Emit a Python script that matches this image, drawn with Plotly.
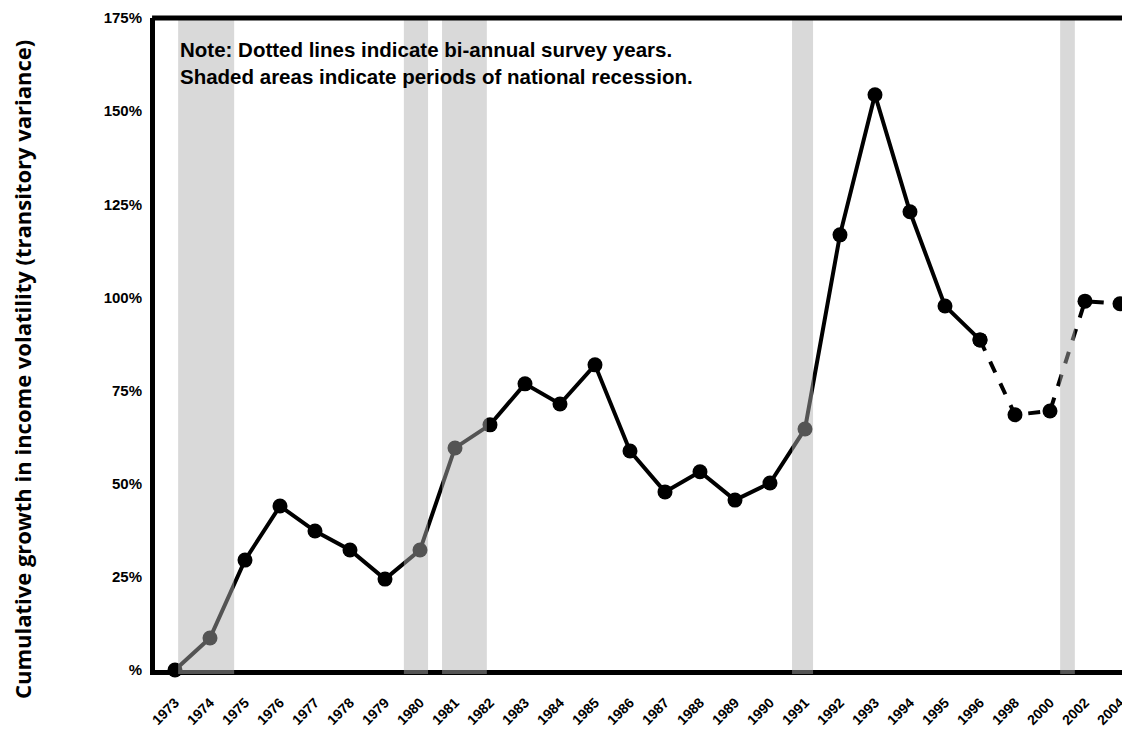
import plotly.graph_objects as go

years = ["1973", "1974", "1975", "1976", "1977", "1978", "1979", "1980", "1981", "1982",
         "1983", "1984", "1985", "1986", "1987", "1988", "1989", "1990", "1991", "1992",
         "1993", "1994", "1995", "1996", "1998", "2000", "2002", "2004"]
growth = [0.0, 8.6, 29.5, 44.0, 37.3, 32.2, 24.4, 32.2, 59.6, 65.8,
          76.8, 71.4, 81.9, 58.8, 47.8, 53.2, 45.6, 50.2, 64.7, 116.8,
          154.4, 123.0, 97.7, 88.6, 68.5, 69.5, 99.0, 98.3]
annual_end = "1996"  # dotted from here on (bi-annual survey years)

# recession periods in category-index units
recessions = [(0.09, 1.69), (6.54, 7.23), (7.63, 8.91), (17.63, 18.23), (25.29, 25.71)]

y_ticks = [0, 25, 50, 75, 100, 125, 150, 175]
y_labels = ["%", "25%", "50%", "75%", "100%", "125%", "150%", "175%"]

note = "<b>Note: Dotted lines indicate bi-annual survey years.<br>Shaded areas indicate periods of national recession.</b>"
y_title = "Cumulative growth in income volatility (transitory variance)"

k = years.index(annual_end)

fig = go.Figure()
fig.add_trace(go.Scatter(
    x=years[:k + 1], y=growth[:k + 1], mode="lines+markers",
    line=dict(color="black", width=4),
    marker=dict(color="black", size=15),
    cliponaxis=False, showlegend=False))
fig.add_trace(go.Scatter(
    x=years[k:], y=growth[k:], mode="lines+markers",
    line=dict(color="black", width=4, dash="dash"),
    marker=dict(color="black", size=15),
    cliponaxis=False, showlegend=False))

for x0, x1 in recessions:
    fig.add_shape(type="rect", xref="x", yref="paper", x0=x0, x1=x1, y0=-0.006, y1=0.997,
                  fillcolor="rgba(176,176,176,0.48)", line=dict(width=0), layer="above")

fig.add_annotation(text=note, xref="paper", yref="paper", x=0.024, y=0.972,
                   xanchor="left", yanchor="top", align="left", showarrow=False,
                   font=dict(family="Liberation Sans, Arial", size=20.5, color="black"))

fig.add_annotation(text="<b>" + y_title + "</b>", xref="paper", yref="paper",
                   x=-0.1364, y=0.46, textangle=-90, showarrow=False,
                   xanchor="center", yanchor="middle", borderpad=0,
                   font=dict(family="Open Sans", size=22, color="black"))

fig.update_layout(
    width=1122, height=722,
    margin=dict(l=147, r=0, t=10, b=60, autoexpand=False),
    paper_bgcolor="white", plot_bgcolor="white",
    font=dict(family="Liberation Sans, Arial", color="black"),
    xaxis=dict(type="category", categoryorder="array", categoryarray=years,
               range=[-0.571, 27.286], showgrid=False, zeroline=False,
               showline=True, linecolor="black", linewidth=5, mirror=False,
               tickangle=-45, ticks="", automargin=False, ticklabelstandoff=14,
               tickfont=dict(family="Liberation Sans, Arial", size=14, weight="bold")),
    yaxis=dict(range=[0, 175], tickvals=y_ticks, ticktext=y_labels,
               showgrid=False, zeroline=False, showline=True, linecolor="black",
               linewidth=5, ticks="", ticklabelstandoff=5, automargin=False,
               tickfont=dict(family="Liberation Sans, Arial", size=15, weight="bold")),
)
# top frame line
fig.add_shape(type="line", xref="paper", yref="paper", x0=-0.003, x1=1, y0=1, y1=1,
              line=dict(color="black", width=5))

fig.write_html("out.html")
